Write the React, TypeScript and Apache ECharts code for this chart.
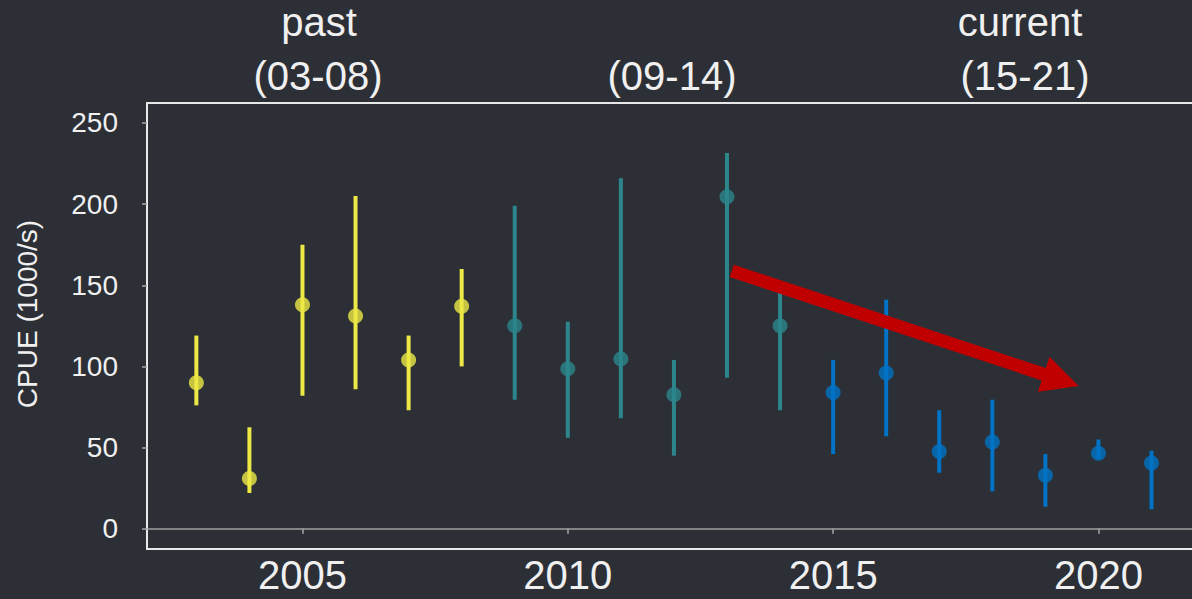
import React, { useEffect, useRef } from "react";
import * as echarts from "echarts";

const years = [2003, 2004, 2005, 2006, 2007, 2008, 2009, 2010, 2011, 2012, 2013, 2014, 2015, 2016, 2017, 2018, 2019, 2020, 2021];
const cpue = [90, 31, 138, 131, 104, 137, 125, 98.5, 104.5, 82.5, 204.5, 125, 84, 96, 47.5, 53.5, 33, 46.5, 40.5];
const upper = [119, 62.5, 175, 205, 119, 160, 199, 127.5, 216, 104, 231.5, 150, 104, 141, 73, 79.5, 46, 55, 48];
const lower = [76, 22, 82, 86, 73, 100, 79.5, 56, 68, 45, 93, 73, 46, 57, 34.5, 23, 13.5, 43, 12];
const periodOf = [0, 0, 0, 0, 0, 0, 1, 1, 1, 1, 1, 1, 2, 2, 2, 2, 2, 2, 2];
const periodColors = ["#ece845", "#2c868c", "#0073c6"];
const yTicks = [0, 50, 100, 150, 200, 250];
const xTicks = [2005, 2010, 2015, 2020];
const trendArrow = [[2013.09, 158.9, 2019.63, 88.0]];
const headerLines = [
  { text: "past", x: 319, y: 22 },
  { text: "(03-08)", x: 318, y: 76 },
  { text: "(09-14)", x: 672, y: 76 },
  { text: "current", x: 1020, y: 22 },
  { text: "(15-21)", x: 1025, y: 76 },
];

const FONT = "'Liberation Sans', Arial, sans-serif";
const TEXT = "#f0f0f0";

export default function App() {
  const ref = useRef<HTMLDivElement>(null);
  useEffect(() => {
    document.body.style.margin = "0";
    const chart = echarts.init(ref.current!, null, { renderer: "svg" });
    const errData = years.map((y, i) => [y, lower[i], upper[i], periodOf[i]]);
    const ptData = years.map((y, i) => ({
      value: [y, cpue[i]],
      itemStyle: { color: periodColors[periodOf[i]] },
    }));
    chart.setOption({
      animation: false,
      backgroundColor: "#2c2f36",
      grid: {
        left: 147,
        top: 103,
        bottom: 50,
        right: 18,
        show: true,
        borderColor: "#e8e8e8",
        borderWidth: 2,
        backgroundColor: "transparent",
      },
      xAxis: {
        type: "value",
        min: 2002.07,
        max: 2022.14,
        splitLine: { show: false },
        axisLine: { show: false },
        axisTick: { show: true, length: 5, lineStyle: { color: "#a8a8a8", width: 1.5 }, customValues: xTicks },
        axisLabel: {
          customValues: xTicks,
          formatter: (v: number) => String(v),
          color: TEXT,
          fontSize: 40,
          fontFamily: FONT,
          margin: 6,
        },
      },
      yAxis: {
        type: "value",
        min: -12.5,
        max: 262.3,
        splitLine: { show: false },
        axisLine: { show: false },
        axisTick: { show: true, length: 5, lineStyle: { color: "#a8a8a8", width: 1.5 }, customValues: yTicks },
        axisLabel: {
          customValues: yTicks,
          formatter: (v: number) => String(v),
          color: TEXT,
          fontSize: 28,
          fontFamily: FONT,
          margin: 29,
        },
      },
      graphic: [
        {
          type: "text",
          x: 27,
          y: 314,
          rotation: Math.PI / 2,
          style: {
            text: "CPUE (1000/s)",
            fill: TEXT,
            font: `28px ${FONT}`,
            align: "center",
            verticalAlign: "middle",
          },
        },
        ...headerLines.map((h) => ({
          type: "text",
          x: h.x,
          y: h.y,
          style: {
            text: h.text,
            fill: TEXT,
            font: `40px ${FONT}`,
            align: "center",
            verticalAlign: "middle",
          },
        })),
      ],
      series: [
        {
          type: "custom",
          data: errData,
          encode: { x: 0, y: [1, 2] },
          renderItem: (params: any, api: any) => {
            const x = api.value(0);
            const p1 = api.coord([x, api.value(1)]);
            const p2 = api.coord([x, api.value(2)]);
            return {
              type: "line",
              shape: { x1: p1[0], y1: p1[1], x2: p2[0], y2: p2[1] },
              style: { stroke: periodColors[api.value(3)], lineWidth: 4 },
            };
          },
          markLine: {
            silent: true,
            symbol: "none",
            label: { show: false },
            lineStyle: { color: "#a0a0a0", width: 1.5, type: "solid" },
            data: [{ yAxis: 0 }],
          },
        },
        {
          type: "scatter",
          data: ptData,
          symbolSize: 15,
        },
        {
          type: "custom",
          data: trendArrow,
          encode: { x: [0, 2], y: [1, 3] },
          z: 10,
          renderItem: (params: any, api: any) => {
            const s = api.coord([api.value(0), api.value(1)]);
            const t = api.coord([api.value(2), api.value(3)]);
            const dx = t[0] - s[0];
            const dy = t[1] - s[1];
            const len = Math.sqrt(dx * dx + dy * dy);
            const ux = dx / len, uy = dy / len;
            const nx = -uy, ny = ux;
            const sw = 6.5, hw = 18.5, hl = 37;
            const bx = t[0] - ux * hl, by = t[1] - uy * hl;
            const pts = [
              [s[0] + nx * sw, s[1] + ny * sw],
              [bx + nx * sw, by + ny * sw],
              [bx + nx * hw, by + ny * hw],
              [t[0], t[1]],
              [bx - nx * hw, by - ny * hw],
              [bx - nx * sw, by - ny * sw],
              [s[0] - nx * sw, s[1] - ny * sw],
            ];
            return {
              type: "polygon",
              shape: { points: pts },
              style: { fill: "#c00000", stroke: "none" },
            };
          },
        },
      ],
    });
    return () => chart.dispose();
  }, []);
  return (
    <div style={{ position: "fixed", left: 0, top: 0, width: 1192, height: 599, overflow: "hidden" }}>
      <div ref={ref} style={{ width: 1230, height: 599 }} />
    </div>
  );
}
